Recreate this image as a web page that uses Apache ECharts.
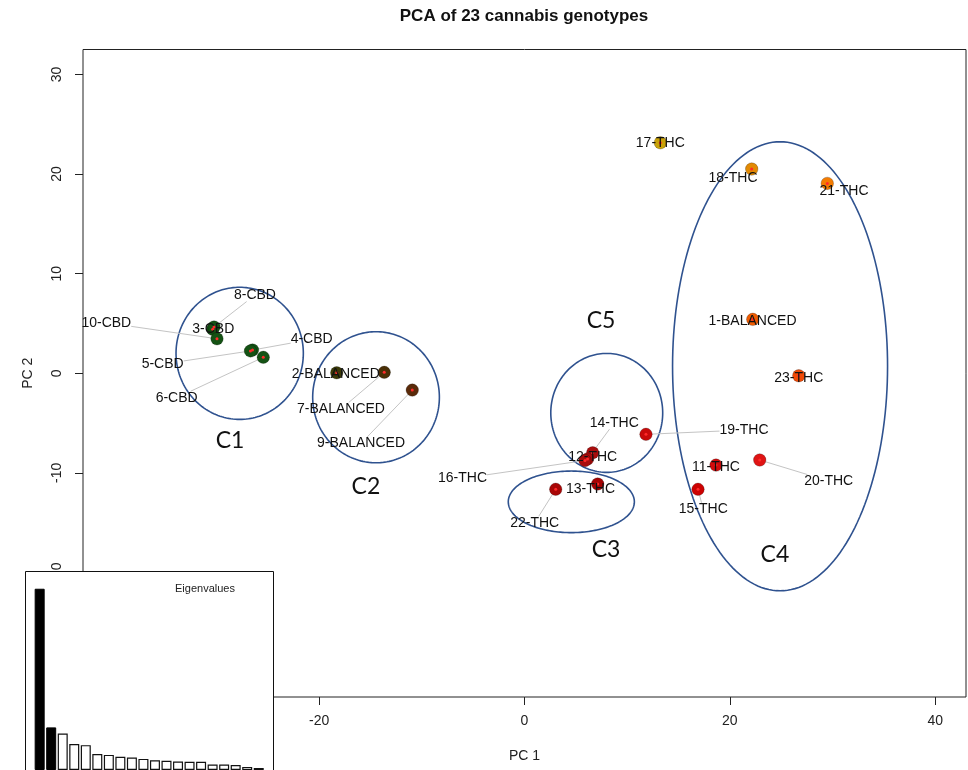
<!DOCTYPE html>
<html>
<head>
<meta charset="utf-8">
<title>PCA of 23 cannabis genotypes</title>
<script src="https://cdn.jsdelivr.net/npm/echarts@6.0.0/dist/echarts.min.js"></script>
<style>
  html, body { margin: 0; padding: 0; background: #fff; }
  #chart { width: 968px; height: 770px; }
</style>
</head>
<body>
<div id="chart"></div>
<script>
// ---- data -------------------------------------------------------------
const genotypes = [
  '1-BALANCED', '2-BALANCED', '3-CBD', '4-CBD', '5-CBD', '6-CBD', '7-BALANCED',
  '8-CBD', '9-BALANCED', '10-CBD', '11-THC', '12-THC', '13-THC', '14-THC',
  '15-THC', '16-THC', '17-THC', '18-THC', '19-THC', '20-THC', '21-THC',
  '22-THC', '23-THC'
];
const pc1 = [
  22.23, -18.29, -30.37, -26.49, -26.69, -25.44, -13.66,
  -30.24, -10.93, -29.95, 18.65, 6.64, 7.13, 6.14,
  16.90, 5.89, 13.23, 22.13, 11.83, 22.91, 29.49,
  3.04, 26.71
];
const pc2 = [
  5.41, 0.05, 4.41, 2.33, 2.24, 1.60, 0.09,
  4.64, -1.69, 3.46, -9.22, -7.98, -11.12, -8.61,
  -11.65, -8.76, 23.14, 20.50, -6.13, -8.71, 19.06,
  -11.65, -0.25
];
// eigenvalues of the PCA (scree inset)
const eigenvalues = [
  8.17, 1.92, 1.64, 1.17, 1.12, 0.72, 0.68, 0.60, 0.56, 0.50,
  0.44, 0.42, 0.38, 0.37, 0.37, 0.25, 0.25, 0.22, 0.14, 0.09
];
const xTicks = [-40, -20, 0, 20, 40];
const yTicks = [-30, -20, -10, 0, 10, 20, 30];

// cluster annotations: name, centre and radii in PC units
const clusterNames = ['C1', 'C2', 'C3', 'C4', 'C5'];
const clusterCx = [-27.74, -14.46, 4.56, 24.89, 8.01];
const clusterCy = [2.00, -2.41, -12.91, 0.70, -3.98];
const clusterRx = [6.20, 6.17, 6.14, 10.47, 5.45];
const clusterRy = [6.63, 6.58, 3.09, 22.54, 5.97];

// ---- layout & style ---------------------------------------------------
// where each genotype's text label sits (PC units)
const labelX = [
  22.21, -18.38, -30.31, -20.73, -35.24, -33.88, -17.87,
  -26.25, -15.92, -40.73, 18.65, 6.64, 6.43, 8.74,
  17.41, -6.04, 13.23, 20.31, 21.38, 29.63, 31.12,
  0.99, 26.71
];
const labelY = [
  5.27, -0.11, 4.41, 3.40, 0.92, -2.46, -3.59,
  7.85, -7.04, 5.07, -9.39, -8.38, -11.65, -4.97,
  -13.66, -10.55, 23.08, 19.59, -5.70, -10.82, 18.29,
  -15.01, -0.51
];
// where each cluster tag sits (PC units)
const clusterTagX = [-28.68, -15.44, 7.94, 24.39, 7.45];
const clusterTagY = [-6.71, -11.33, -17.75, -18.25, 5.24];

const pointColors = [
  '#ef5c02', '#3b3a08', '#145214', '#145214', '#145214', '#145214', '#4a2f06',
  '#145214', '#5a2a0a', '#145214', '#d20c0c', '#a80c0c', '#a30303', '#a80c0c',
  '#cc0202', '#a80c0c', '#c9a208', '#e28a04', '#c80a0a', '#e01414', '#f47c02',
  '#a80606', '#f04a06'
];
const KEPT_AXES = 2;           // bars drawn black in the scree inset
const FONT = '"Liberation Sans", Arial, Helvetica, sans-serif';
const LABEL_SIZE = 14;
const ELLIPSE_COLOR = '#2F528F';

// ---- helpers ----------------------------------------------------------
const measureCtx = document.createElement('canvas').getContext('2d');
measureCtx.font = LABEL_SIZE + 'px ' + FONT;

function leaderLine(params, api) {
  const i = params.dataIndex;
  const p = api.coord([pc1[i], pc2[i]]);
  const l = api.coord([labelX[i], labelY[i]]);
  const hw = measureCtx.measureText(genotypes[i]).width / 2;
  const hh = 6.5;
  const dx = p[0] - l[0], dy = p[1] - l[1];
  if (Math.abs(dx) <= hw && Math.abs(dy) <= hh) return null;
  const tx = dx !== 0 ? hw / Math.abs(dx) : Infinity;
  const ty = dy !== 0 ? hh / Math.abs(dy) : Infinity;
  const t = Math.min(tx, ty);
  return {
    type: 'line',
    shape: { x1: p[0], y1: p[1], x2: l[0] + dx * t, y2: l[1] + dy * t },
    style: { stroke: '#c4c4c4', lineWidth: 1 }
  };
}

function genotypeLabel(params, api) {
  const i = params.dataIndex;
  const c = api.coord([labelX[i], labelY[i]]);
  return {
    type: 'text',
    x: c[0], y: c[1],
    style: {
      text: genotypes[i], fill: '#111',
      font: LABEL_SIZE + 'px ' + FONT,
      align: 'center', verticalAlign: 'middle'
    }
  };
}

function clusterEllipse(params, api) {
  const i = params.dataIndex;
  const c = api.coord([clusterCx[i], clusterCy[i]]);
  const r = api.size([clusterRx[i], clusterRy[i]]);
  const pts = [];
  for (let k = 0; k < 180; k++) {
    const a = (k / 180) * Math.PI * 2;
    pts.push([c[0] + r[0] * Math.cos(a), c[1] + r[1] * Math.sin(a)]);
  }
  return {
    type: 'polygon',
    shape: { points: pts },
    style: { fill: 'none', stroke: ELLIPSE_COLOR, lineWidth: 1.6 }
  };
}

function clusterTag(params, api) {
  const i = params.dataIndex;
  const c = api.coord([clusterTagX[i], clusterTagY[i]]);
  return {
    type: 'text',
    x: c[0], y: c[1],
    style: {
      text: clusterNames[i], fill: '#111',
      font: '23px Lato, "Open Sans", sans-serif',
      align: 'center', verticalAlign: 'middle'
    }
  };
}

// ---- chart ------------------------------------------------------------
const chart = echarts.init(document.getElementById('chart'), null, { renderer: 'canvas' });

const axisText = { fontSize: 14, color: '#222', fontFamily: FONT };

const option = {
  backgroundColor: '#ffffff',
  animation: false,
  graphic: [
    {
      type: 'text', x: 524, y: 16,
      style: {
        text: 'PCA of 23 cannabis genotypes', fill: '#111',
        font: 'bold 17px ' + FONT, align: 'center', verticalAlign: 'middle'
      }
    },
    {
      type: 'rect', zlevel: 1, z: 0,
      shape: { x: 25.5, y: 571.5, width: 248, height: 230 },
      style: { fill: '#ffffff', stroke: '#111', lineWidth: 1 }
    },
    {
      type: 'text', zlevel: 1, z: 10, x: 205, y: 589,
      style: {
        text: 'Eigenvalues', fill: '#222', font: '11px ' + FONT,
        align: 'center', verticalAlign: 'middle'
      }
    }
  ],
  grid: [
    { left: 83, top: 49.5, right: 2, bottom: 73, show: true,
      borderColor: '#222', borderWidth: 1, backgroundColor: 'transparent' },
    { left: 33.9, top: 571, width: 230.6, height: 203, show: false }
  ],
  xAxis: [
    {
      type: 'value', gridIndex: 0, min: -43, max: 43, position: 'bottom',
      axisLine: { show: false, onZero: false }, splitLine: { show: false },
      axisTick: { show: true, customValues: xTicks, length: 8, lineStyle: { color: '#222' } },
      axisLabel: Object.assign({ customValues: xTicks, margin: 17 }, axisText),
      name: 'PC 1', nameLocation: 'middle', nameGap: 52,
      nameTextStyle: axisText
    },
    {
      type: 'category', gridIndex: 1, show: false,
      data: eigenvalues.map((_, i) => 'Axis ' + (i + 1))
    }
  ],
  yAxis: [
    {
      type: 'value', gridIndex: 0, min: -32.5, max: 32.5, position: 'left',
      axisLine: { show: false, onZero: false }, splitLine: { show: false },
      axisTick: { show: true, customValues: yTicks, length: 8, lineStyle: { color: '#222' } },
      axisLabel: Object.assign({ customValues: yTicks, margin: 19, rotate: 90 }, axisText),
      name: 'PC 2', nameLocation: 'middle', nameGap: 48,
      nameTextStyle: axisText
    },
    { type: 'value', gridIndex: 1, show: false, min: 0, max: 8.97 }
  ],
  series: [
    {
      type: 'custom', name: 'clusters', xAxisIndex: 0, yAxisIndex: 0, z: 1,
      data: clusterNames.map((_, i) => [clusterCx[i], clusterCy[i]]),
      renderItem: clusterEllipse, silent: true
    },
    {
      type: 'custom', name: 'leaders', xAxisIndex: 0, yAxisIndex: 0, z: 2,
      data: genotypes.map((_, i) => [pc1[i], pc2[i]]),
      renderItem: leaderLine, silent: true
    },
    {
      type: 'scatter', name: 'genotypes', xAxisIndex: 0, yAxisIndex: 0, z: 3,
      symbol: 'circle', symbolSize: 12.5,
      data: genotypes.map((g, i) => ({
        name: g, value: [pc1[i], pc2[i]],
        itemStyle: { color: pointColors[i], opacity: 1,
          borderColor: 'rgba(0,0,0,0.22)', borderWidth: 1 }
      }))
    },
    {
      type: 'scatter', name: 'centres', xAxisIndex: 0, yAxisIndex: 0, z: 4,
      symbol: 'circle', symbolSize: 3,
      itemStyle: { color: '#ff2a2a', opacity: 1 },
      data: genotypes.map((_, i) => [pc1[i], pc2[i]])
    },
    {
      type: 'custom', name: 'labels', xAxisIndex: 0, yAxisIndex: 0, z: 5,
      data: genotypes.map((_, i) => [labelX[i], labelY[i]]),
      renderItem: genotypeLabel, silent: true
    },
    {
      type: 'custom', name: 'cluster tags', xAxisIndex: 0, yAxisIndex: 0, z: 5,
      data: clusterNames.map((_, i) => [clusterTagX[i], clusterTagY[i]]),
      renderItem: clusterTag, silent: true
    },
    {
      type: 'bar', name: 'eigenvalues', xAxisIndex: 1, yAxisIndex: 1,
      zlevel: 1, z: 5, barWidth: 10,
      data: eigenvalues.map((v, i) => ({
        value: v,
        itemStyle: i < KEPT_AXES
          ? { color: '#000', borderColor: '#000', borderWidth: 1 }
          : { color: '#fff', borderColor: '#111', borderWidth: 1.2 }
      }))
    }
  ]
};

chart.setOption(option);
</script>
</body>
</html>
